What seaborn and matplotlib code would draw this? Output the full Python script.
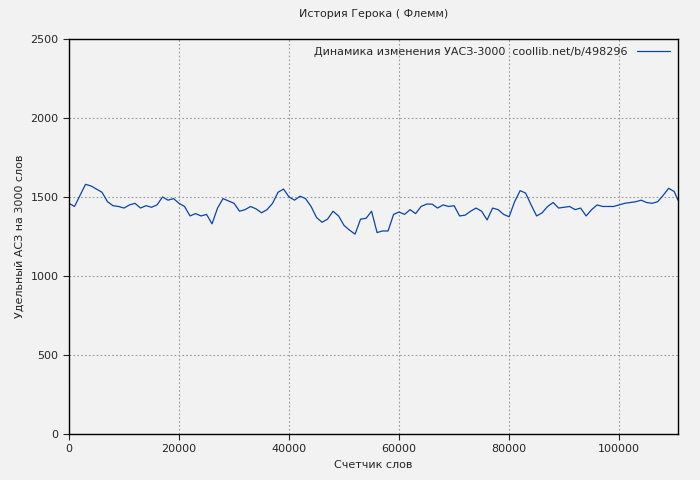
import matplotlib
matplotlib.use("Agg")
import matplotlib.pyplot as plt
import seaborn as sns
import pandas as pd

words = list(range(0, 111000, 1000)) + [110700]
values = [1460,1440,1510,1580,1570,1550,1530,1470,1445,1440,
          1430,1450,1460,1430,1445,1435,1450,1500,1480,1490,
          1460,1440,1380,1395,1380,1390,1330,1430,1490,1475,
          1460,1410,1420,1440,1425,1400,1420,1460,1530,1550,
          1500,1480,1505,1490,1440,1370,1340,1360,1410,1380,
          1320,1290,1265,1360,1365,1410,1275,1285,1285,1390,
          1405,1390,1420,1395,1440,1455,1455,1430,1450,1440,
          1445,1380,1385,1410,1430,1410,1355,1430,1420,1390,
          1375,1470,1540,1525,1450,1380,1400,1440,1465,1430,
          1435,1440,1420,1430,1380,1420,1450,1440,1440,1440,
          1450,1460,1465,1470,1480,1465,1460,1470,1510,1555,
          1535,1480]
n = min(len(words), len(values))
df = pd.DataFrame({"x": words[:n], "y": values[:n]})
label = "Динамика изменения УАСЗ-3000  coollib.net/b/498296"

sns.set_style("white")
plt.rcParams['font.family'] = ['DejaVu Sans']
fig = plt.figure(figsize=(7, 4.8), dpi=100, facecolor="#f2f2f2")
ax = fig.add_axes([69/700, 46/480, 609/700, 395/480])
ax.set_facecolor("#f2f2f2")
sns.lineplot(data=df, x="x", y="y", ax=ax, color="#0645ad", linewidth=0.9, label=label)
ax.set_xlim(0, 110700)
ax.set_ylim(0, 2500)
ax.set_xticks(range(0, 110001, 20000))
ax.set_yticks(range(0, 2501, 500))
ax.grid(True, color="#999999", linestyle=(0, (1.5, 2)), linewidth=0.8)
for s in ax.spines.values():
    s.set_visible(True)
    s.set_color("black")
    s.set_linewidth(1)
ax.tick_params(labelsize=8, length=4, direction="out", left=True, bottom=True)
ax.set_xlabel("Счетчик слов", fontsize=8)
ax.set_ylabel("Удельный АСЗ на 3000 слов", fontsize=8)
ax.set_title("История Герока ( Флемм)", fontsize=8, pad=16)
leg = ax.legend(loc="upper right", frameon=False, fontsize=8, markerfirst=False,
                handlelength=3, borderaxespad=0.3)
fig.savefig("out.png", dpi=100, facecolor=fig.get_facecolor())
